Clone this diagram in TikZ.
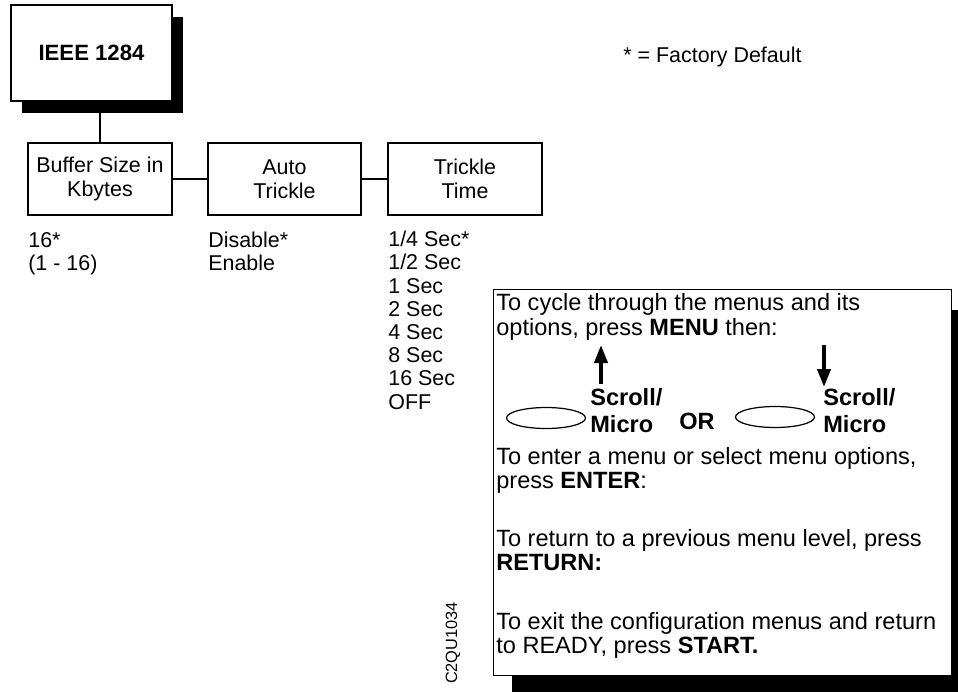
\documentclass[tikz,border=0pt]{standalone}
\usepackage{fontspec}
\setmainfont{Liberation Sans}
\usepackage{tikz}
\usetikzlibrary{shapes.geometric, arrows.meta, positioning, calc, shadows}

\begin{document}
\begin{tikzpicture}[
    topbox/.style={rectangle, draw=black, fill=white, line width=1.1pt, minimum width=3.22cm, minimum height=1.92cm, font=\fontsize{12.6}{14}\selectfont\bfseries, drop shadow={shadow xshift=0.22cm, shadow yshift=-0.24cm, fill=black, opacity=1}},
    menubox/.style={rectangle, draw=black, line width=1.1pt, minimum height=1.44cm, align=center, font=\fontsize{12.2}{13.6}\selectfont},
    optlist/.style={anchor=base west, align=left, inner sep=0pt, font=\fontsize{12.2}{13.2}\selectfont},
    helpbox/.style={rectangle, draw=black, fill=white, line width=0.5pt, minimum width=9.16cm, minimum height=7.72cm, drop shadow={shadow xshift=0.38cm, shadow yshift=-0.42cm, fill=black, opacity=1}},
    helptext/.style={anchor=base west, align=left, inner sep=0pt, font=\fontsize{13.4}{13.9}\selectfont},
    keytext/.style={anchor=west, align=left, inner sep=0pt, font=\fontsize{13.4}{15.4}\selectfont\bfseries},
    wheel/.style={ellipse, draw=black, line width=0.7pt, minimum width=1.58cm, minimum height=0.42cm, inner sep=0pt},
    link/.style={line width=1.1pt},
    scrollarr/.style={-{Triangle[length=0.36cm, width=0.26cm]}, line width=2.2pt}
  ]
    \useasboundingbox (0,0) rectangle (19.16,-13.82);

    % menu tree
    \node[topbox] (ieee) at (1.83,-1.06) {IEEE 1284};
    \node[menubox, minimum width=2.88cm] (buf) at (2.00,-3.58) {Buffer Size in\\Kbytes};
    \node[menubox, minimum width=3.06cm] (auto) at (5.69,-3.58) {Auto\\Trickle};
    \node[menubox, minimum width=3.08cm] (ttime) at (9.30,-3.58) {Trickle\\Time};

    \draw[link] (buf.north |- ieee.south) -- (buf.north);
    \draw[link] (buf.east) -- (auto.west);
    \draw[link] (auto.east) -- (ttime.west);

    % option values (placed by the last line)
    \node[optlist] (bufopt) at (0.56,-5.41) {16*\\(1 - 16)};
    \node[optlist] (autoopt) at (4.16,-5.41) {Disable*\\Enable};
    \node[optlist] (ttimeopt) at (7.76,-8.18) {1/4 Sec*\\1/2 Sec\\1 Sec\\2 Sec\\4 Sec\\8 Sec\\16 Sec\\OFF};

    \node[optlist] (deflt) at (12.46,-1.25) {* = Factory Default};

    % key help
    \node[helpbox] (help) at (14.44,-9.64) {};
    \node[helptext] (cycle) at (9.92,-6.70) {To cycle through the menus and its\\options, press \textbf{MENU} then:};

    \coordinate (upbot) at (12.02,-7.68);
    \coordinate (uptop) at (12.02,-6.90);
    \coordinate (dntop) at (16.48,-6.90);
    \coordinate (dnbot) at (16.48,-7.74);
    \draw[scrollarr] (upbot) -- (uptop);
    \draw[scrollarr] (dntop) -- (dnbot);

    \node[wheel] (wheelup) at (10.92,-8.36) {};
    \node[keytext] (scrollup) at (11.80,-8.22) {Scroll/\\Micro};
    \node[keytext, anchor=center] (orkey) at (13.94,-8.42) {OR};
    \node[wheel] (wheeldn) at (15.50,-8.34) {};
    \node[keytext] (scrolldn) at (16.46,-8.22) {Scroll/\\Micro};

    \node[helptext] (enter) at (9.92,-9.77) {To enter a menu or select menu options,\\press \textbf{ENTER}:};
    \node[helptext] (ret) at (9.92,-11.41) {To return to a previous menu level, press\\\textbf{RETURN:}};
    \node[helptext] (start) at (9.92,-13.07) {To exit the configuration menus and return\\to READY, press \textbf{START.}};

    \node[rotate=90, font=\fontsize{9.3}{10}\selectfont] (figid) at (9.06,-12.86) {C2QU1034};
  \end{tikzpicture}
\end{document}
